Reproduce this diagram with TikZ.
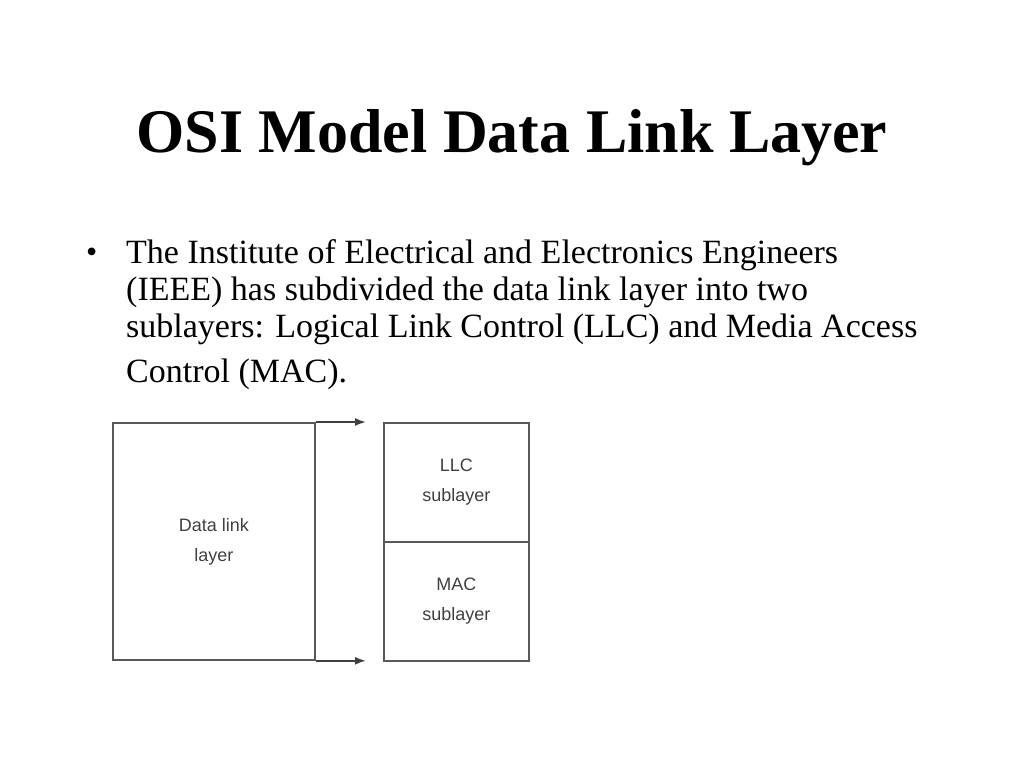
\documentclass[tikz,border=0pt]{standalone}
\usepackage{fontspec}
\setmainfont{Liberation Serif}
\newfontfamily\arialf{Liberation Sans}
\usetikzlibrary{arrows.meta}
\begin{document}
\begin{tikzpicture}[x=1pt,y=-1pt,
  box/.style={draw=black!65,line width=1.8pt},
  lbl/.style={font=\arialf\fontsize{18}{30}\selectfont,text=black!75,align=center},
  arr/.style={draw=black!75,line width=1.8pt,-{Latex[length=11pt,width=8pt]}}]
\useasboundingbox (0,0) rectangle (1024,768);
\node[font=\bfseries\fontsize{62}{68}\selectfont] (title) at (512,138) {OSI Model Data Link Layer};
\node[anchor=base west,font=\fontsize{32}{36}\selectfont,inner sep=0] (bul) at (86,262) {•};
\node[anchor=north west,align=left,font=\fontsize{34}{37}\selectfont,inner sep=0] (body) at (126,239)
 {The Institute of Electrical and Electronics Engineers\\(IEEE) has subdivided the data link layer into two\\sublayers: Logical Link Control (LLC) and Media Access\\[8pt]Control (MAC).};
\node[box,minimum width=202,minimum height=237,anchor=north west,lbl] (dl) at (112,422) {Data link\\layer};
\node[box,minimum width=145,minimum height=119,anchor=north west,lbl] (llc) at (383,422) {LLC\\sublayer};
\node[box,minimum width=145,minimum height=119,anchor=north west,lbl] (mac) at (383,541) {MAC\\sublayer};
\coordinate (t1) at (366,422);
\coordinate (t2) at (366,659);
\draw[arr] (dl.north east) -- (dl.north east -| t1);
\draw[arr] (dl.south east) -- (dl.south east -| t2);
\end{tikzpicture}
\end{document}
